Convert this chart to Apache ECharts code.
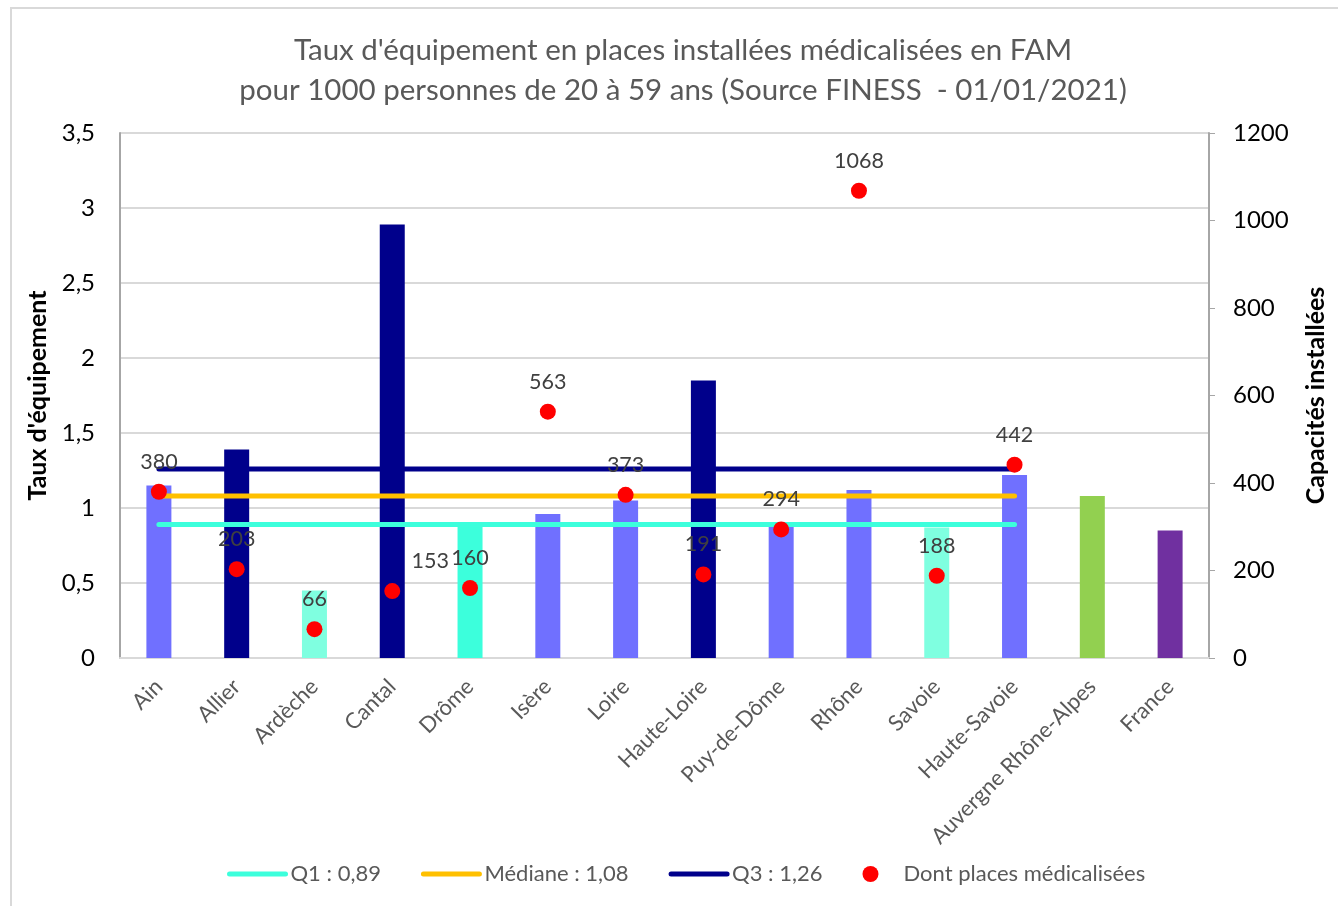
<!DOCTYPE html>
<html>
<head>
<meta charset="utf-8">
<script src="https://cdn.jsdelivr.net/npm/echarts@6/dist/echarts.min.js"></script>
<style>
  html, body { margin: 0; padding: 0; background: #fff; }
  #chart { width: 1338px; height: 906px; }
</style>
</head>
<body>
<div id="chart"></div>
<script>
(() => {
    const FONT = "Lato, 'Open Sans', sans-serif";

    // categories
    const territoires = ["Ain", "Allier", "Ardèche", "Cantal", "Drôme", "Isère", "Loire",
        "Haute-Loire", "Puy-de-Dôme", "Rhône", "Savoie", "Haute-Savoie",
        "Auvergne Rhône-Alpes", "France"];
    // taux d'équipement (left axis)
    const taux = [1.15, 1.39, 0.45, 2.89, 0.88, 0.96, 1.05, 1.85, 0.90, 1.12, 0.87, 1.22, 1.08, 0.85];
    // dont places médicalisées (right axis) - departments only
    const places = [380, 203, 66, 153, 160, 563, 373, 191, 294, 1068, 188, 442, null, null];
    // quartiles over the 12 departments
    const Q1 = 0.89, MEDIANE = 1.08, Q3 = 1.26;
    const NB_DEPTS = 12;

    const barColors = ["#7070FF", "#00008B", "#7FFFE0", "#00008B", "#3CFFDC", "#7070FF", "#7070FF",
        "#00008B", "#7070FF", "#7070FF", "#7FFFE0", "#7070FF", "#92D050", "#7030A0"];

    function flatLine(v) {
        return territoires.map((t, i) => i < NB_DEPTS ? v : null);
    }
    function fr(v) {
        return String(v).replace(".", ",");
    }

    const el = document.getElementById("chart");
    const chart = echarts.init(el);

    const lineSeries = (name, value, color) => ({
        name: name,
        type: "line",
        data: flatLine(value),
        showSymbol: false,
        symbol: "none",
        z: 3,
        lineStyle: { color: color, width: 5, cap: "round" },
        itemStyle: { color: color },
        silent: true
    });

    const hiddenDot = { opacity: 0, borderWidth: 0 };

    const option = {
        animation: false,
        backgroundColor: "#fff",
        textStyle: { fontFamily: FONT },
        graphic: [{
            type: "rect",
            shape: { x: 11, y: 8, width: 1340, height: 910 },
            style: { fill: "none", stroke: "#D9D9D9", lineWidth: 2 },
            silent: true
        }],
        title: {
            text: "Taux d'équipement en places installées médicalisées en FAM\npour 1000 personnes de 20 à 59 ans (Source FINESS  - 01/01/2021)",
            left: 678,
            textAlign: "center",
            top: 25,
            textStyle: { fontFamily: FONT, fontSize: 29.5, fontWeight: "normal", color: "#595959", lineHeight: 40 }
        },
        legend: {
            bottom: 16,
            left: 222,
            itemWidth: 56,
            itemHeight: 16,
            itemGap: 40,
            lineStyle: { width: 5, cap: "round" },
            textStyle: { fontFamily: FONT, fontSize: 22, color: "#595959" },
            data: [
                { name: "Q1 : 0,89", itemStyle: hiddenDot },
                { name: "Médiane : 1,08", itemStyle: hiddenDot },
                { name: "Q3 : 1,26", itemStyle: hiddenDot },
                { name: "Dont places médicalisées", icon: "circle" }
            ]
        },
        grid: { left: 120, right: 129, top: 133, bottom: 248, outerBoundsMode: "none", containLabel: false },
        xAxis: {
            type: "category",
            data: territoires,
            axisLine: { lineStyle: { color: "#D9D9D9", width: 2 } },
            axisTick: { show: false },
            axisLabel: { rotate: 45, margin: 25, fontFamily: FONT, fontSize: 22, color: "#595959", interval: 0 }
        },
        yAxis: [{
            type: "value",
            min: 0, max: 3.5, interval: 0.5,
            name: "Taux d'équipement",
            nameLocation: "middle",
            nameGap: 70,
            nameTextStyle: { fontFamily: FONT, fontSize: 25, fontWeight: "bold", color: "#000" },
            axisLine: { show: true, lineStyle: { color: "#A6A6A6", width: 2 } },
            axisTick: { show: false },
            axisLabel: { margin: 25, fontFamily: FONT, fontSize: 24, color: "#000", formatter: v => fr(v) },
            splitLine: { lineStyle: { color: "#D9D9D9", width: 2 } }
        }, {
            type: "value",
            min: 0, max: 1200, interval: 200,
            name: "Capacités installées",
            nameLocation: "middle",
            nameGap: 94,
            nameRotate: 90,
            nameTextStyle: { fontFamily: FONT, fontSize: 25, fontWeight: "bold", color: "#000" },
            axisLine: { show: true, lineStyle: { color: "#A6A6A6", width: 2 } },
            axisTick: { show: true, inside: false, length: 6, lineStyle: { color: "#A6A6A6" } },
            axisLabel: { margin: 24, fontFamily: FONT, fontSize: 24, color: "#000", formatter: v => String(v) },
            splitLine: { show: false }
        }],
        series: [{
            name: "Taux",
            type: "bar",
            data: taux,
            barWidth: 25,
            z: 2,
            itemStyle: { color: p => barColors[p.dataIndex] }
        },
            lineSeries("Q3 : 1,26", Q3, "#00008B"),
            lineSeries("Médiane : 1,08", MEDIANE, "#FFC000"),
            lineSeries("Q1 : 0,89", Q1, "#3CFFDC"),
        {
            name: "Dont places médicalisées",
            type: "scatter",
            yAxisIndex: 1,
            data: places.map((v, i) => i === 3 ? { value: v, label: { offset: [38, 0] } } : v),
            symbol: "circle",
            symbolSize: 16,
            z: 5,
            itemStyle: { color: "#FF0000", opacity: 1 },
            label: {
                show: true,
                position: "top",
                distance: 11,
                fontFamily: FONT,
                fontSize: 21.5,
                color: "#404040"
            }
        }]
    };
    chart.setOption(option);
})();
</script>
</body>
</html>
